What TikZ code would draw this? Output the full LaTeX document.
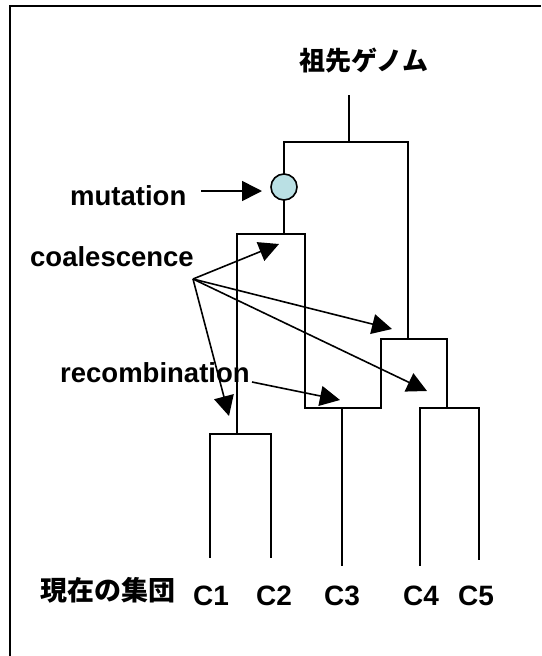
\documentclass[tikz,border=0pt]{standalone}
\usepackage{fontspec}
\setmainfont{Liberation Sans}
\newfontfamily\jp{Noto Sans CJK JP}
\usetikzlibrary{arrows.meta}
\definecolor{mutfill}{RGB}{186,224,228}
\tikzset{
  tree/.style={line width=1.8pt, line cap=rect},
  lbl/.style={inner sep=0pt, font=\fontsize{27.5}{30}\selectfont\bfseries, anchor=base west},
  clbl/.style={inner sep=0pt, font=\fontsize{28}{30}\selectfont\bfseries, anchor=base},
  jlbl/.style={inner sep=0pt, font=\jp\bfseries\fontsize{26}{30}\selectfont},
  pointer/.style={line width=1.6pt, -{Triangle[length=20pt,width=20pt]}},
}
\begin{document}
\begin{tikzpicture}[x=1pt,y=-1pt]
\useasboundingbox (0,0) rectangle (541,656);
% frame
\draw[line width=2pt] (10,656) -- (10,6) -- (541,6);

% tree coordinates
\coordinate (root) at (349,96);
\coordinate (rootj) at (349,142);
\coordinate (tl) at (284,142);
\coordinate (tr) at (408,142);
\coordinate (ba) at (284,234);
\coordinate (bl) at (237,234);
\coordinate (br) at (305,234);
\coordinate (bll) at (237,434);
\coordinate (c12l) at (210,434);
\coordinate (c12r) at (271,434);
\coordinate (c1e) at (210,557);
\coordinate (c2e) at (271,557);
\coordinate (brr) at (305,408);
\coordinate (c3j) at (342,408);
\coordinate (c3e) at (342,565);
\coordinate (rbj) at (408,339);
\coordinate (rbl) at (381,339);
\coordinate (rbr) at (447,339);
\coordinate (rbll) at (381,408);
\coordinate (rbrr) at (447,408);
\coordinate (c4t) at (420,408);
\coordinate (c5t) at (479,408);
\coordinate (c4e) at (420,565);
\coordinate (c5e) at (479,559);

\node[circle, draw, line width=1.6pt, fill=mutfill, minimum size=26pt, inner sep=0pt] (mut) at (284,187) {};

% tree
\draw[tree] (root) -- (rootj);
\draw[tree] (mut.north) -- (tl) -- (tr) -- (rbj);
\draw[tree] (mut.south) -- (ba);
\draw[tree] (bll) -- (bl) -- (br) -- (brr) -- (rbll) -- (rbl) -- (rbr) -- (rbrr);
\draw[tree] (c1e) -- (c12l) -- (c12r) -- (c2e);
\draw[tree] (c3j) -- (c3e);
\draw[tree] (c4e) -- (c4t) -- (c5t) -- (c5e);
\draw[tree] (rbrr) -- (c4t);

% labels
\node[jlbl] (anc) at (364,61) {祖先ゲノム};
\node[lbl] (mutl) at (70,205) {mutation};
\node[lbl] (coal) at (30,266) {coalescence};
\node[lbl] (reco) at (60,382) {recombination};
\node[jlbl, font=\jp\bfseries\fontsize{27}{30}\selectfont] (pop) at (108,590) {現在の集団};
\node[clbl] (C1) at (211,605) {C1};
\node[clbl] (C2) at (274,605) {C2};
\node[clbl] (C3) at (342,605) {C3};
\node[clbl] (C4) at (421,605) {C4};
\node[clbl] (C5) at (476,605) {C5};

% arrows
\coordinate (mutfrom) at (201,191);
\coordinate (mutto) at (262,191);
\coordinate (cfrom) at (193,279);
\coordinate (ct1) at (279,244);
\coordinate (ct2) at (392,329);
\coordinate (ct3) at (427,391);
\coordinate (ct4) at (229,416);
\coordinate (rfrom) at (252,382);
\coordinate (rt) at (340,400);

\draw[pointer] (mutfrom) -- (mutto);
\draw[pointer] (cfrom) -- (ct1);
\draw[pointer] (cfrom) -- (ct2);
\draw[pointer] (cfrom) -- (ct3);
\draw[pointer] (cfrom) -- (ct4);
\draw[pointer] (rfrom) -- (rt);
\end{tikzpicture}
\end{document}
